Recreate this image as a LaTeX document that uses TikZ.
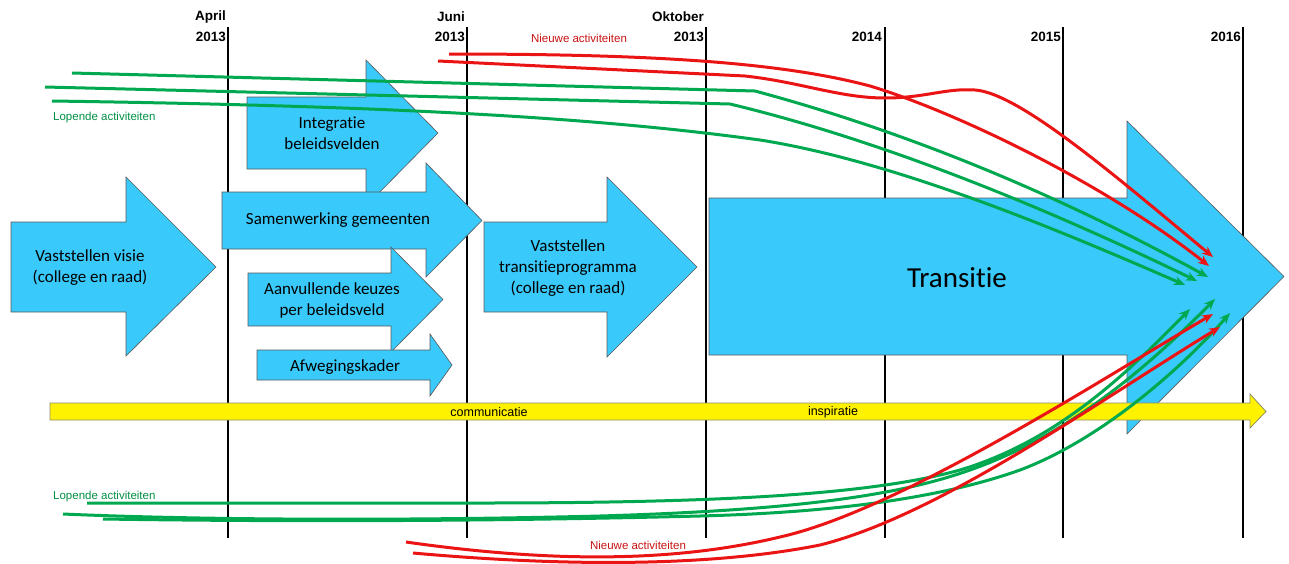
\documentclass[tikz,border=0pt]{standalone}
\usepackage{fontspec}
\setmainfont{Carlito}[Ligatures=NoCommon]
\newfontfamily\arial{Liberation Sans}
\usepackage{tikz}
\usetikzlibrary{arrows.meta}
\definecolor{pijlblauw}{RGB}{58,201,251}
\definecolor{lopendgroen}{RGB}{0,168,80}
\definecolor{nieuwrood}{RGB}{235,20,20}
\definecolor{balkgrijs}{RGB}{140,140,110}
\tikzset{
    tijdlijn/.style={draw=black,line width=2.4pt},
    jaar/.style={font=\arial\bfseries\fontsize{13.5}{15}\selectfont,anchor=east,inner sep=0pt},
    blok/.style={fill=pijlblauw,draw=black!65,line width=0.6pt},
    balk/.style={fill=yellow,draw=balkgrijs,line width=0.8pt},
    tekst/.style={align=center,inner sep=0pt,font=\fontsize{17}{21}\selectfont},
    klein/.style={inner sep=0pt,font=\arial\fontsize{11.5}{13}\selectfont},
    lopend/.style={draw=lopendgroen,line width=3pt,-{Stealth[length=11pt,width=9pt]}},
    nieuw/.style={draw=nieuwrood,line width=3pt,-{Stealth[length=11pt,width=9pt]}},
}
% blokpijl: links, boven, onder, kop-x, kop-boven, kop-onder, punt
\newcommand\blokpijl[8][blok]{%
    \filldraw[#1] (#2,#3) -- (#5,#3) -- (#5,#6) -- (#8,{(#3+#4)/2}) -- (#5,#7) -- (#5,#4) -- (#2,#4) -- cycle;}

\begin{document}
\begin{tikzpicture}[x=1pt,y=-1pt]
\useasboundingbox (0,0) rectangle (1289,563);

% tijdlijnen
\foreach \x/\naam in {228/apr,467/jun,706/okt,885/j14,1063/j15,1243/j16}
    \draw[tijdlijn] (\x,27) coordinate (\naam) -- (\x,538);
\node[jaar] (aprM) at (226,17) {April};
\node[jaar] (aprJ) at (226,37) {2013};
\node[jaar] (junM) at (465,17) {Juni};
\node[jaar] (junJ) at (465,37) {2013};
\node[jaar] (oktM) at (704,17) {Oktober};
\node[jaar] (oktJ) at (704,37) {2013};
\node[jaar] (j14J) at (882,37) {2014};
\node[jaar] (j15J) at (1061,37) {2015};
\node[jaar] (j16J) at (1241,37) {2016};

% blokpijlen
\blokpijl{11}{222}{312}{126}{177}{356}{216}
\blokpijl{247}{97}{169}{366}{60}{206}{438}
\blokpijl{222}{192}{249}{426}{163}{277}{482}
\blokpijl{248}{273}{326}{391}{247}{352}{443}
\blokpijl{257}{350}{380}{430}{334}{396}{452}
\blokpijl{484}{222}{312}{607}{177}{357}{697}
\blokpijl{709}{198}{355}{1127}{121}{434}{1284}
\blokpijl[balk]{50}{403}{420}{1250}{394}{428}{1266}

\node[tekst] (visie) at (90,268) {Vaststellen visie\\(college en raad)};
\node[tekst] (integratie) at (332,133) {Integratie\\beleidsvelden};
\node[tekst] (samen) at (338,220) {Samenwerking gemeenten};
\node[tekst] (keuzes) at (332,300) {Aanvullende keuzes\\per beleidsveld};
\node[tekst] (kader) at (345,367) {Afwegingskader};
\node[tekst] (programma) at (568,268) {Vaststellen\\transitieprogramma\\(college en raad)};
\node[tekst,font=\fontsize{29}{34}\selectfont] (transitie) at (957,278) {Transitie};
\node[klein,font=\arial\fontsize{12.5}{14}\selectfont] (communicatie) at (489,412) {communicatie};
\node[klein,font=\arial\fontsize{12.5}{14}\selectfont] (inspiratie) at (833,412) {inspiratie};

% lopende activiteiten boven
\coordinate (gb1) at (72,73);
\coordinate (gb2) at (45,87);
\coordinate (gb3) at (52,101);
\coordinate (pg1) at (1208,277);
\coordinate (pg2) at (1197,281);
\coordinate (pg3) at (1185,285);
\draw[lopend] (gb1) -- (755,91) .. controls (900,130) and (1050,190) .. (pg1);
\draw[lopend] (gb2) -- (730,104) .. controls (880,140) and (1040,205) .. (pg2);
\draw[lopend] (gb3) .. controls (400,106) and (600,118) .. (760,140)
    .. controls (900,162) and (1070,235) .. (pg3);

% nieuwe activiteiten boven
\coordinate (rb1) at (449,54);
\coordinate (rb2) at (438,61);
\coordinate (pr1) at (1209,266);
\coordinate (pr2) at (1213,257);
\draw[nieuw] (rb1) .. controls (650,54) and (780,62) .. (870,86)
    .. controls (950,110) and (1100,180) .. (pr1);
\draw[nieuw] (rb2) -- (745,76) .. controls (800,82) and (840,98) .. (885,98)
    .. controls (925,98) and (945,88) .. (975,90)
    .. controls (1020,93) and (1120,180) .. (pr2);

% lopende activiteiten onder
\coordinate (go1) at (87,503);
\coordinate (go2) at (63,514);
\coordinate (go3) at (103,519);
\coordinate (pg4) at (1190,309);
\coordinate (pg5) at (1215,299);
\coordinate (pg6) at (1230,313);
\draw[lopend] (go1) -- (480,503) .. controls (750,503) and (880,492) .. (960,470)
    .. controls (1060,440) and (1130,370) .. (pg4);
\draw[lopend] (go2) .. controls (200,520) and (400,521) .. (600,516)
    .. controls (800,510) and (900,495) .. (970,470)
    .. controls (1070,435) and (1150,365) .. (pg5);
\draw[lopend] (go3) .. controls (300,522) and (500,521) .. (700,516)
    .. controls (850,512) and (950,495) .. (1020,470)
    .. controls (1100,440) and (1180,370) .. (pg6);

% nieuwe activiteiten onder
\coordinate (ro1) at (406,542);
\coordinate (ro2) at (413,553);
\coordinate (pr3) at (1213,314);
\coordinate (pr4) at (1220,327);
\draw[nieuw] (ro1) .. controls (560,564) and (680,561) .. (780,537)
    .. controls (900,510) and (1100,380) .. (pr3);
\draw[nieuw] (ro2) .. controls (580,568) and (720,565) .. (820,545)
    .. controls (940,515) and (1100,400) .. (pr4);

\node[klein,text=lopendgroen!85!black,anchor=west] (lopendB) at (53,118) {Lopende activiteiten};
\node[klein,text=lopendgroen!85!black,anchor=west] (lopendO) at (53,497) {Lopende activiteiten};
\node[klein,text=nieuwrood!85!black] (nieuwB) at (579,38) {Nieuwe activiteiten};
\node[klein,text=nieuwrood!85!black] (nieuwO) at (638,545) {Nieuwe activiteiten};
\end{tikzpicture}
\end{document}
